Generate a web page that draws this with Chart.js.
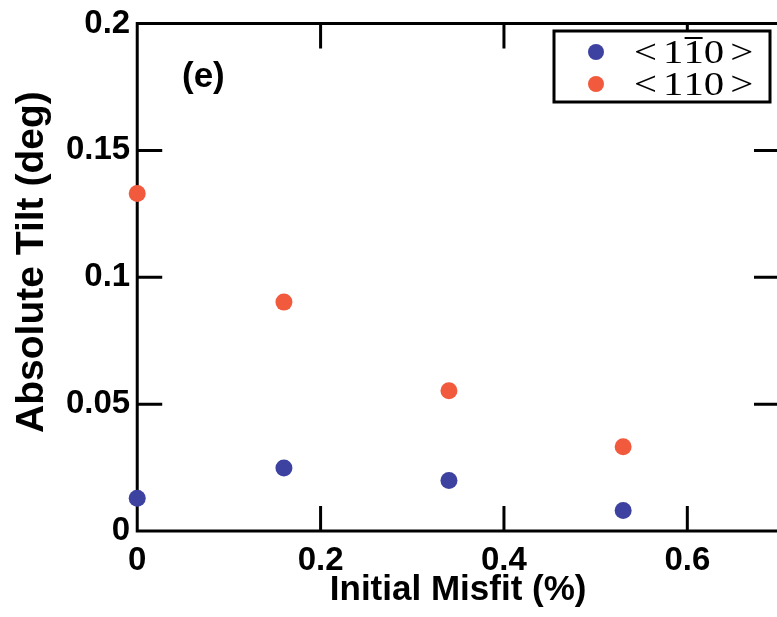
<!DOCTYPE html>
<html>
<head>
<meta charset="utf-8">
<script src="https://cdn.jsdelivr.net/npm/chart.js@4.4.1/dist/chart.umd.min.js"></script>
<style>
    html, body { margin: 0; padding: 0; background: #fff; overflow: hidden; }
    #wrap { width: 777px; height: 617px; overflow: hidden; }
    #box { width: 800px; height: 617px; }
</style>
</head>
<body>
<div id="wrap"><div id="box"><canvas id="tiltChart"></canvas></div></div>
<script>
// Absolute tilt vs initial misfit, two in-plane directions
const misfit = [0, 0.16, 0.34, 0.53];
const tiltPerp = [0.0129, 0.0248, 0.0199, 0.0081];   // <1-10>
const tiltPar = [0.133, 0.0902, 0.0553, 0.0332];     // <110>
const xTicks = [0, 0.2, 0.4, 0.6];
const yTicks = [0, 0.05, 0.1, 0.15, 0.2];
const seriesLabels = ['<11\u03050>', '<110>'];       // U+0305 = overbar on previous digit
const seriesColors = ['#3d41a0', '#f15a3c'];

const AXIS_FONT = "'Liberation Sans', Arial, sans-serif";
const LEGEND_FONT = "'Liberation Serif', 'Times New Roman', serif";
const TICK_LEN = 25;

// box around the plot plus inward ticks on all four sides
const framePlugin = {
    id: 'frame',
    beforeDatasetsDraw(chart) {
        const { ctx, chartArea: a, scales } = chart;
        ctx.save();
        ctx.strokeStyle = '#000';
        ctx.lineWidth = 3;
        ctx.lineCap = 'butt';
        ctx.strokeRect(a.left, a.top, a.right - a.left, a.bottom - a.top);
        ctx.beginPath();
        scales.x.ticks.forEach(t => {
            const px = scales.x.getPixelForValue(t.value);
            if (px <= a.left + 2 || px >= a.right - 2) return;
            ctx.moveTo(px, a.bottom); ctx.lineTo(px, a.bottom - TICK_LEN);
            ctx.moveTo(px, a.top); ctx.lineTo(px, a.top + TICK_LEN);
        });
        scales.y.ticks.forEach(t => {
            const py = scales.y.getPixelForValue(t.value);
            if (py <= a.top + 2 || py >= a.bottom - 2) return;
            ctx.moveTo(a.left, py); ctx.lineTo(a.left + TICK_LEN, py);
            ctx.moveTo(a.right, py); ctx.lineTo(a.right - TICK_LEN, py);
        });
        ctx.stroke();
        ctx.restore();
    },
    afterDraw(chart) {
        const { ctx } = chart;
        ctx.save();
        // panel tag
        ctx.fillStyle = '#000';
        ctx.font = 'bold 35px ' + AXIS_FONT;
        ctx.textBaseline = 'middle';
        ctx.fillText('(e)', 182, 77);

        // legend box
        const bx = 554, by = 31, bw = 216, bh = 71;
        ctx.fillStyle = '#fff';
        ctx.fillRect(bx, by, bw, bh);
        ctx.lineWidth = 3;
        ctx.strokeStyle = '#000';
        ctx.strokeRect(bx, by, bw, bh);

        chart.data.datasets.forEach((ds, i) => {
            const cy = by + 21 + i * 32;
            ctx.beginPath();
            ctx.arc(596, cy, 8, 0, Math.PI * 2);
            ctx.fillStyle = ds.backgroundColor;
            ctx.fill();
            drawLabel(ctx, ds.label, 634, cy + 2);
        });
        ctx.restore();
    }
};

// draws "<110>" style labels, a combining overline puts a bar above the digit before it
function drawLabel(ctx, text, x, y) {
    ctx.save();
    ctx.translate(x, y);
    ctx.scale(1.2, 1);
    ctx.font = '34px ' + LEGEND_FONT;
    ctx.fillStyle = '#000';
    ctx.textBaseline = 'middle';
    let cx = 0;
    const chars = Array.from(text);
    for (let i = 0; i < chars.length; i++) {
        const ch = chars[i];
        if (ch === '\u0305') continue;
        const w = ctx.measureText(ch).width;
        ctx.fillText(ch, cx, 0);
        if (chars[i + 1] === '\u0305') {
            ctx.fillRect(cx + 1, -17, w - 2, 2);
        }
        cx += w;
        if (ch === '<') cx += 5;
        if (chars[i + 1] === '>') cx += 5;
    }
    ctx.restore();
}

const tickFont = { family: AXIS_FONT, size: 33, weight: 'bold', lineHeight: 1 };

new Chart(document.getElementById('tiltChart').getContext('2d'), {
    type: 'scatter',
    data: {
        datasets: [
            {
                label: seriesLabels[0],
                data: misfit.map((x, i) => ({ x, y: tiltPerp[i] })),
                backgroundColor: seriesColors[0],
                borderWidth: 0,
                pointRadius: 8.5,
                clip: false
            },
            {
                label: seriesLabels[1],
                data: misfit.map((x, i) => ({ x, y: tiltPar[i] })),
                backgroundColor: seriesColors[1],
                borderWidth: 0,
                pointRadius: 8.5,
                clip: false
            }
        ]
    },
    options: {
        responsive: true,
        maintainAspectRatio: false,
        animation: false,
        layout: { padding: { left: 9, top: 20, right: 21, bottom: 9 } },
        scales: {
            x: {
                type: 'linear',
                min: 0,
                max: 0.7,
                afterBuildTicks: s => { s.ticks = xTicks.map(v => ({ value: v })); },
                grid: { display: false, drawTicks: false },
                border: { display: false },
                ticks: {
                    color: '#000',
                    font: tickFont,
                    padding: 13,
                    maxRotation: 0,
                    callback: v => String(v)
                },
                title: {
                    display: true,
                    text: 'Initial Misfit (%)',
                    color: '#000',
                    font: { family: AXIS_FONT, size: 35, weight: 'bold', lineHeight: 1 },
                    padding: { top: -17, bottom: 0 }
                }
            },
            y: {
                min: 0,
                max: 0.2,
                afterBuildTicks: s => { s.ticks = yTicks.map(v => ({ value: v })); },
                grid: { display: false, drawTicks: false },
                border: { display: false },
                ticks: {
                    color: '#000',
                    font: tickFont,
                    padding: 7,
                    callback: v => String(v)
                },
                title: {
                    display: true,
                    text: '\u2002 Absolute Tilt (deg)',
                    color: '#000',
                    font: { family: AXIS_FONT, size: 39, weight: 'bold', lineHeight: 1 },
                    padding: { top: 4, bottom: 7 }
                }
            }
        },
        plugins: {
            legend: { display: false },
            tooltip: { enabled: false }
        }
    },
    plugins: [framePlugin]
});
</script>
</body>
</html>
